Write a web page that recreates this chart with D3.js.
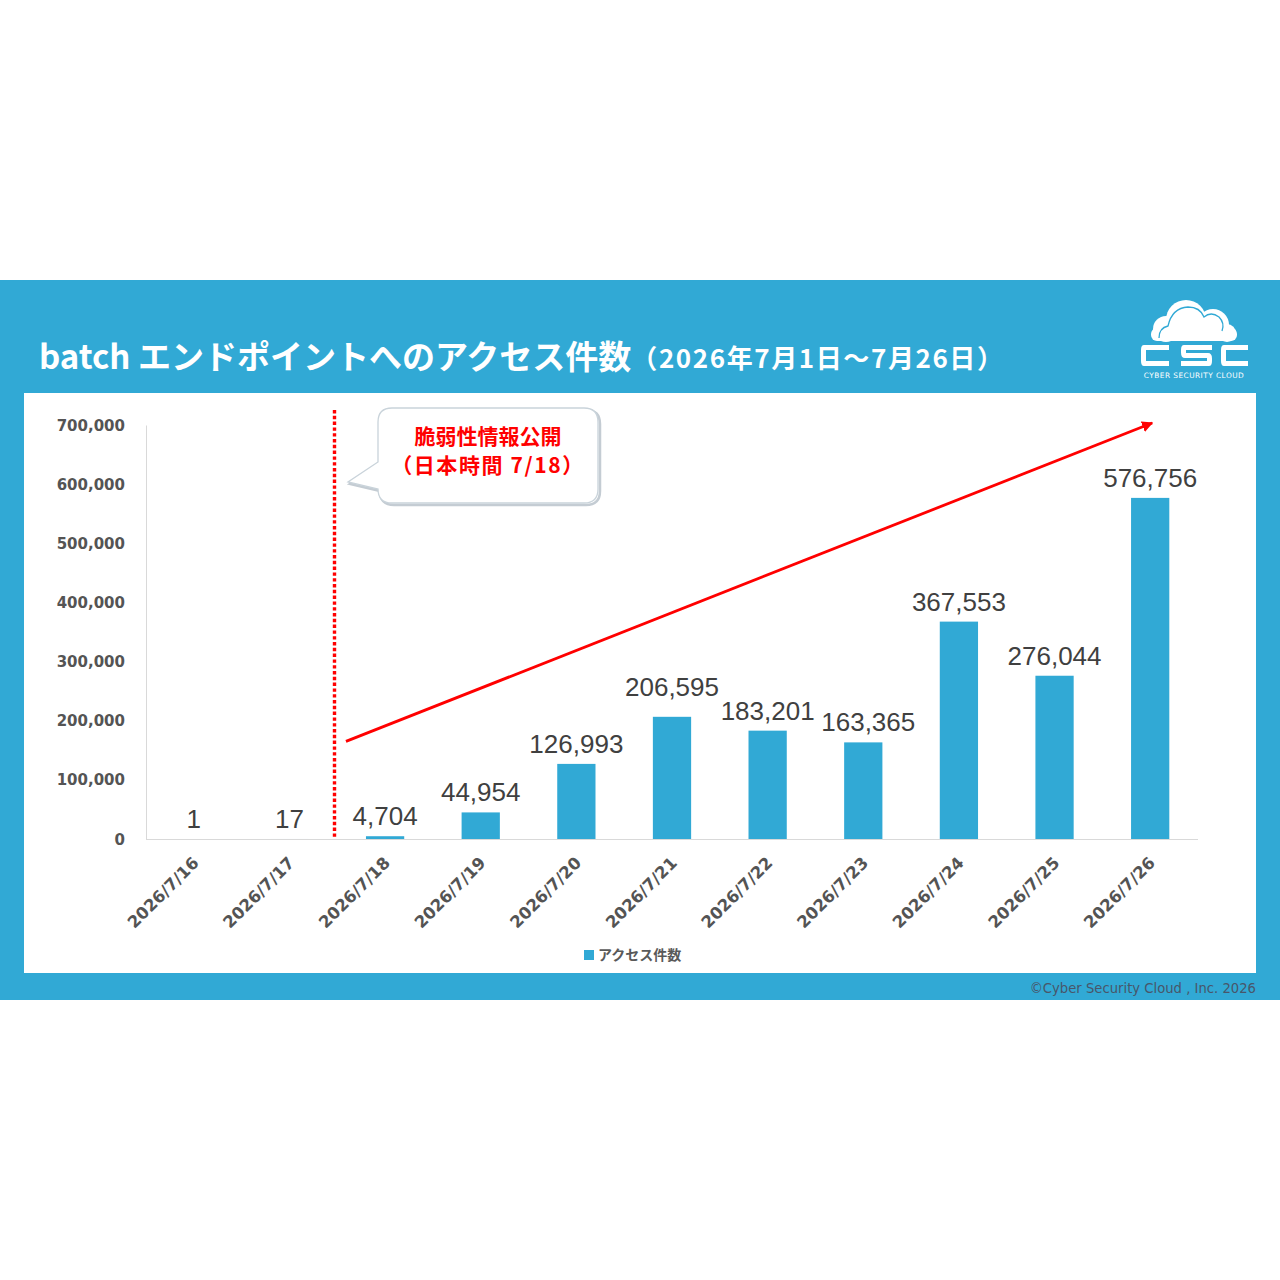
<!DOCTYPE html>
<html><head><meta charset="utf-8">
<script src="https://cdn.jsdelivr.net/npm/d3@7"></script>
<style>html,body{margin:0;padding:0;background:#fff;}svg{display:block;}</style>
</head><body>
<svg id="c" width="1280" height="1280"></svg>
<script>
const categories = ["2026/7/16","2026/7/17","2026/7/18","2026/7/19","2026/7/20","2026/7/21","2026/7/22","2026/7/23","2026/7/24","2026/7/25","2026/7/26"];
const accessCounts = [1,17,4704,44954,126993,206595,183201,163365,367553,276044,576756];
const yTicks = [0,100000,200000,300000,400000,500000,600000,700000];
const seriesName = "アクセス件数";
const titleMain = "batch エンドポイントへのアクセス件数";
const titleSub = "（2026年7月1日～7月26日）";
const calloutLines = ["脆弱性情報公開","（日本時間 7/18）"];
const disclosureDate = "2026/7/18";
const trendFrom = {cat:"2026/7/18", value:165000};
const trendTo = {cat:"2026/7/26", value:700000};
const footer = "©Cyber Security Cloud , Inc. 2026";

const BLUE = "#31a9d5";
const svg = d3.select("#c");
const JP = "'Noto Sans CJK JP','Noto Sans',sans-serif";

// background band & panel
svg.append("rect").attr("x",0).attr("y",280).attr("width",1280).attr("height",720).attr("fill",BLUE);
svg.append("rect").attr("x",24).attr("y",393).attr("width",1232).attr("height",580).attr("fill","#fff");

// title
const t = svg.append("text").attr("x",39).attr("y",369).attr("fill","#fff")
  .attr("font-family",JP).attr("font-weight",700);
t.append("tspan").attr("font-size",33).text(titleMain);
t.append("tspan").attr("font-size",26).attr("dx",0).attr("dy",-1).attr("letter-spacing",1.6).text(titleSub);

// logo
const logo = svg.append("g");
const cloud = [[1166,329,13],[1186,320,20],[1213,325,16],[1227,333,9]];
logo.selectAll("circle.cl").data(cloud).enter().append("circle")
  .attr("cx",d=>d[0]).attr("cy",d=>d[1]).attr("r",d=>d[2]).attr("fill","#fff");
logo.append("rect").attr("x",1151).attr("y",328).attr("width",86).attr("height",13).attr("rx",6).attr("fill","#fff");
logo.append("path").attr("d","M1159,338 Q1159,328 1168,326 Q1172,308 1188,307 Q1200,307 1204,317 Q1211,311 1219,317 Q1225,323 1222,331")
  .attr("fill","none").attr("stroke",BLUE).attr("stroke-width",1.3);
const lw=5;
function cPath(x,y,w,h){return `M${x+w},${y+lw/2} H${x+3} Q${x+lw/2},${y+lw/2} ${x+lw/2},${y+5} V${y+h-5} Q${x+lw/2},${y+h-lw/2} ${x+3},${y+h-lw/2} H${x+w}`;}
function sPath(x,y,w,h){const m=y+h/2;return `M${x+w},${y+lw/2} H${x+3} Q${x+lw/2},${y+lw/2} ${x+lw/2},${y+5} V${m-3} Q${x+lw/2},${m} ${x+4},${m} H${x+w-4} Q${x+w-lw/2},${m} ${x+w-lw/2},${m+3} V${y+h-5} Q${x+w-lw/2},${y+h-lw/2} ${x+w-3},${y+h-lw/2} H${x}`;}
logo.append("path").attr("d",cPath(1141,345,28,21)).attr("fill","none").attr("stroke","#fff").attr("stroke-width",lw);
logo.append("path").attr("d",sPath(1181,345,31,21)).attr("fill","none").attr("stroke","#fff").attr("stroke-width",lw);
logo.append("path").attr("d",cPath(1221,345,27,21)).attr("fill","none").attr("stroke","#fff").attr("stroke-width",lw);
logo.append("text").attr("x",1194).attr("y",378).attr("text-anchor","middle").attr("fill","#fff")
  .attr("font-family","'DejaVu Sans',sans-serif").attr("font-size",7.4).attr("letter-spacing",0.45).text("CYBER SECURITY CLOUD");

// scales
const x = d3.scaleBand().domain(categories).range([146,1198]).paddingInner(0.6).paddingOuter(0.3);
const y = d3.scaleLinear().domain([0,700000]).range([839,425]);
const cx = c => x(c)+x.bandwidth()/2;
const step = x.step();

// y axis
const yAxis = d3.axisLeft(y).tickValues(yTicks).tickSize(0).tickPadding(21).tickFormat(d3.format(","));
const ga = svg.append("g").attr("transform","translate(146,0)").call(yAxis);
ga.select(".domain").attr("stroke","#d9d9d9").attr("stroke-width",1);
ga.selectAll("text").attr("font-family","'DejaVu Sans',sans-serif").attr("font-weight",700)
  .attr("font-size",15).attr("fill","#545454").attr("dy","0.34em");

// x axis
const xAxis = d3.axisBottom(x).tickSize(0).tickPadding(0);
const gx = svg.append("g").attr("transform","translate(0,839)").call(xAxis);
gx.select(".domain").attr("d","M146,0.5H1198").attr("stroke","#d9d9d9").attr("stroke-width",1);
gx.selectAll("text").attr("font-family","'DejaVu Sans',sans-serif").attr("font-weight",700)
  .attr("font-size",16.5).attr("fill","#545454").attr("text-anchor","end")
  .attr("dy",null).attr("y",0)
  .attr("transform","translate(6,25) rotate(-45)");

// bars
svg.append("g").selectAll("rect").data(accessCounts).enter().append("rect")
  .attr("x",(d,i)=>x(categories[i])).attr("width",x.bandwidth())
  .attr("y",d=>y(d)).attr("height",d=>839-y(d)).attr("fill",BLUE);

// value labels (Excel-style collision nudges for crowded labels)
const nudge = (i)=> categories[i]==="2026/7/21" ? [0,-10] : categories[i]==="2026/7/23" ? [5,0] : [0,0];
svg.append("g").selectAll("text").data(accessCounts).enter().append("text")
  .attr("x",(d,i)=>cx(categories[i])+nudge(i)[0]).attr("y",(d,i)=>y(d)-11+nudge(i)[1])
  .attr("text-anchor","middle").attr("font-family","'Liberation Sans',Arial,sans-serif")
  .attr("font-size",26).attr("fill","#404040").text(d=>d3.format(",")(d));

// disclosure dotted line
const dx = Math.round(x(disclosureDate) - step*0.6*0.5 - 3) + 0.5;
svg.append("line").attr("x1",dx).attr("x2",dx).attr("y1",410).attr("y2",839)
  .attr("stroke","#ff0000").attr("stroke-width",3.4).attr("stroke-dasharray","3.4,2.4");

// trend arrow
svg.append("defs").append("marker").attr("id","ah").attr("viewBox","0 0 10 10").attr("refX",9).attr("refY",5)
  .attr("markerWidth",4).attr("markerHeight",4).attr("orient","auto").attr("markerUnits","strokeWidth")
  .append("path").attr("d","M0,0 L10,5 L0,10 Z").attr("fill","#ff0000");
svg.append("line").attr("x1",x(trendFrom.cat)-20).attr("y1",y(trendFrom.value))
  .attr("x2",cx(trendTo.cat)+2).attr("y2",y(trendTo.value)-2)
  .attr("stroke","#ff0000").attr("stroke-width",2.8).attr("marker-end","url(#ah)");

// callout
const bx=378,by=408,bw=220,bh=95,r=14;
const cp = `M${bx+r},${by} H${bx+bw-r} Q${bx+bw},${by} ${bx+bw},${by+r} V${by+bh-r} Q${bx+bw},${by+bh} ${bx+bw-r},${by+bh} H${bx+r} Q${bx},${by+bh} ${bx},${by+bh-r} V489 L348,482 L${bx},462 V${by+r} Q${bx},${by} ${bx+r},${by} Z`;
svg.append("path").attr("d",cp).attr("transform","translate(2,2)").attr("fill","none").attr("stroke","#c4ccd3").attr("stroke-width",2.5);
svg.append("path").attr("d",cp).attr("fill","#fff").attr("stroke","#c9d3da").attr("stroke-width",1.3);
svg.append("g").selectAll("text").data(calloutLines).enter().append("text")
  .attr("x",488).attr("y",(d,i)=>444+i*29).attr("text-anchor","middle")
  .attr("letter-spacing",(d,i)=>i===0?0:1.6)
  .attr("font-family",JP).attr("font-weight",700).attr("font-size",21).attr("fill","#ff0000").text(d=>d);

// legend
svg.append("rect").attr("x",584).attr("y",950).attr("width",10).attr("height",10).attr("fill",BLUE);
svg.append("text").attr("x",598).attr("y",960).attr("font-family",JP).attr("font-weight",700)
  .attr("font-size",14).attr("fill","#595959").text(seriesName);

// footer
svg.append("text").attr("x",1256).attr("y",993).attr("text-anchor","end")
  .attr("font-family","'DejaVu Sans',Verdana,sans-serif").attr("font-size",13.2).attr("fill","#48566a").text(footer);
</script>
</body></html>
